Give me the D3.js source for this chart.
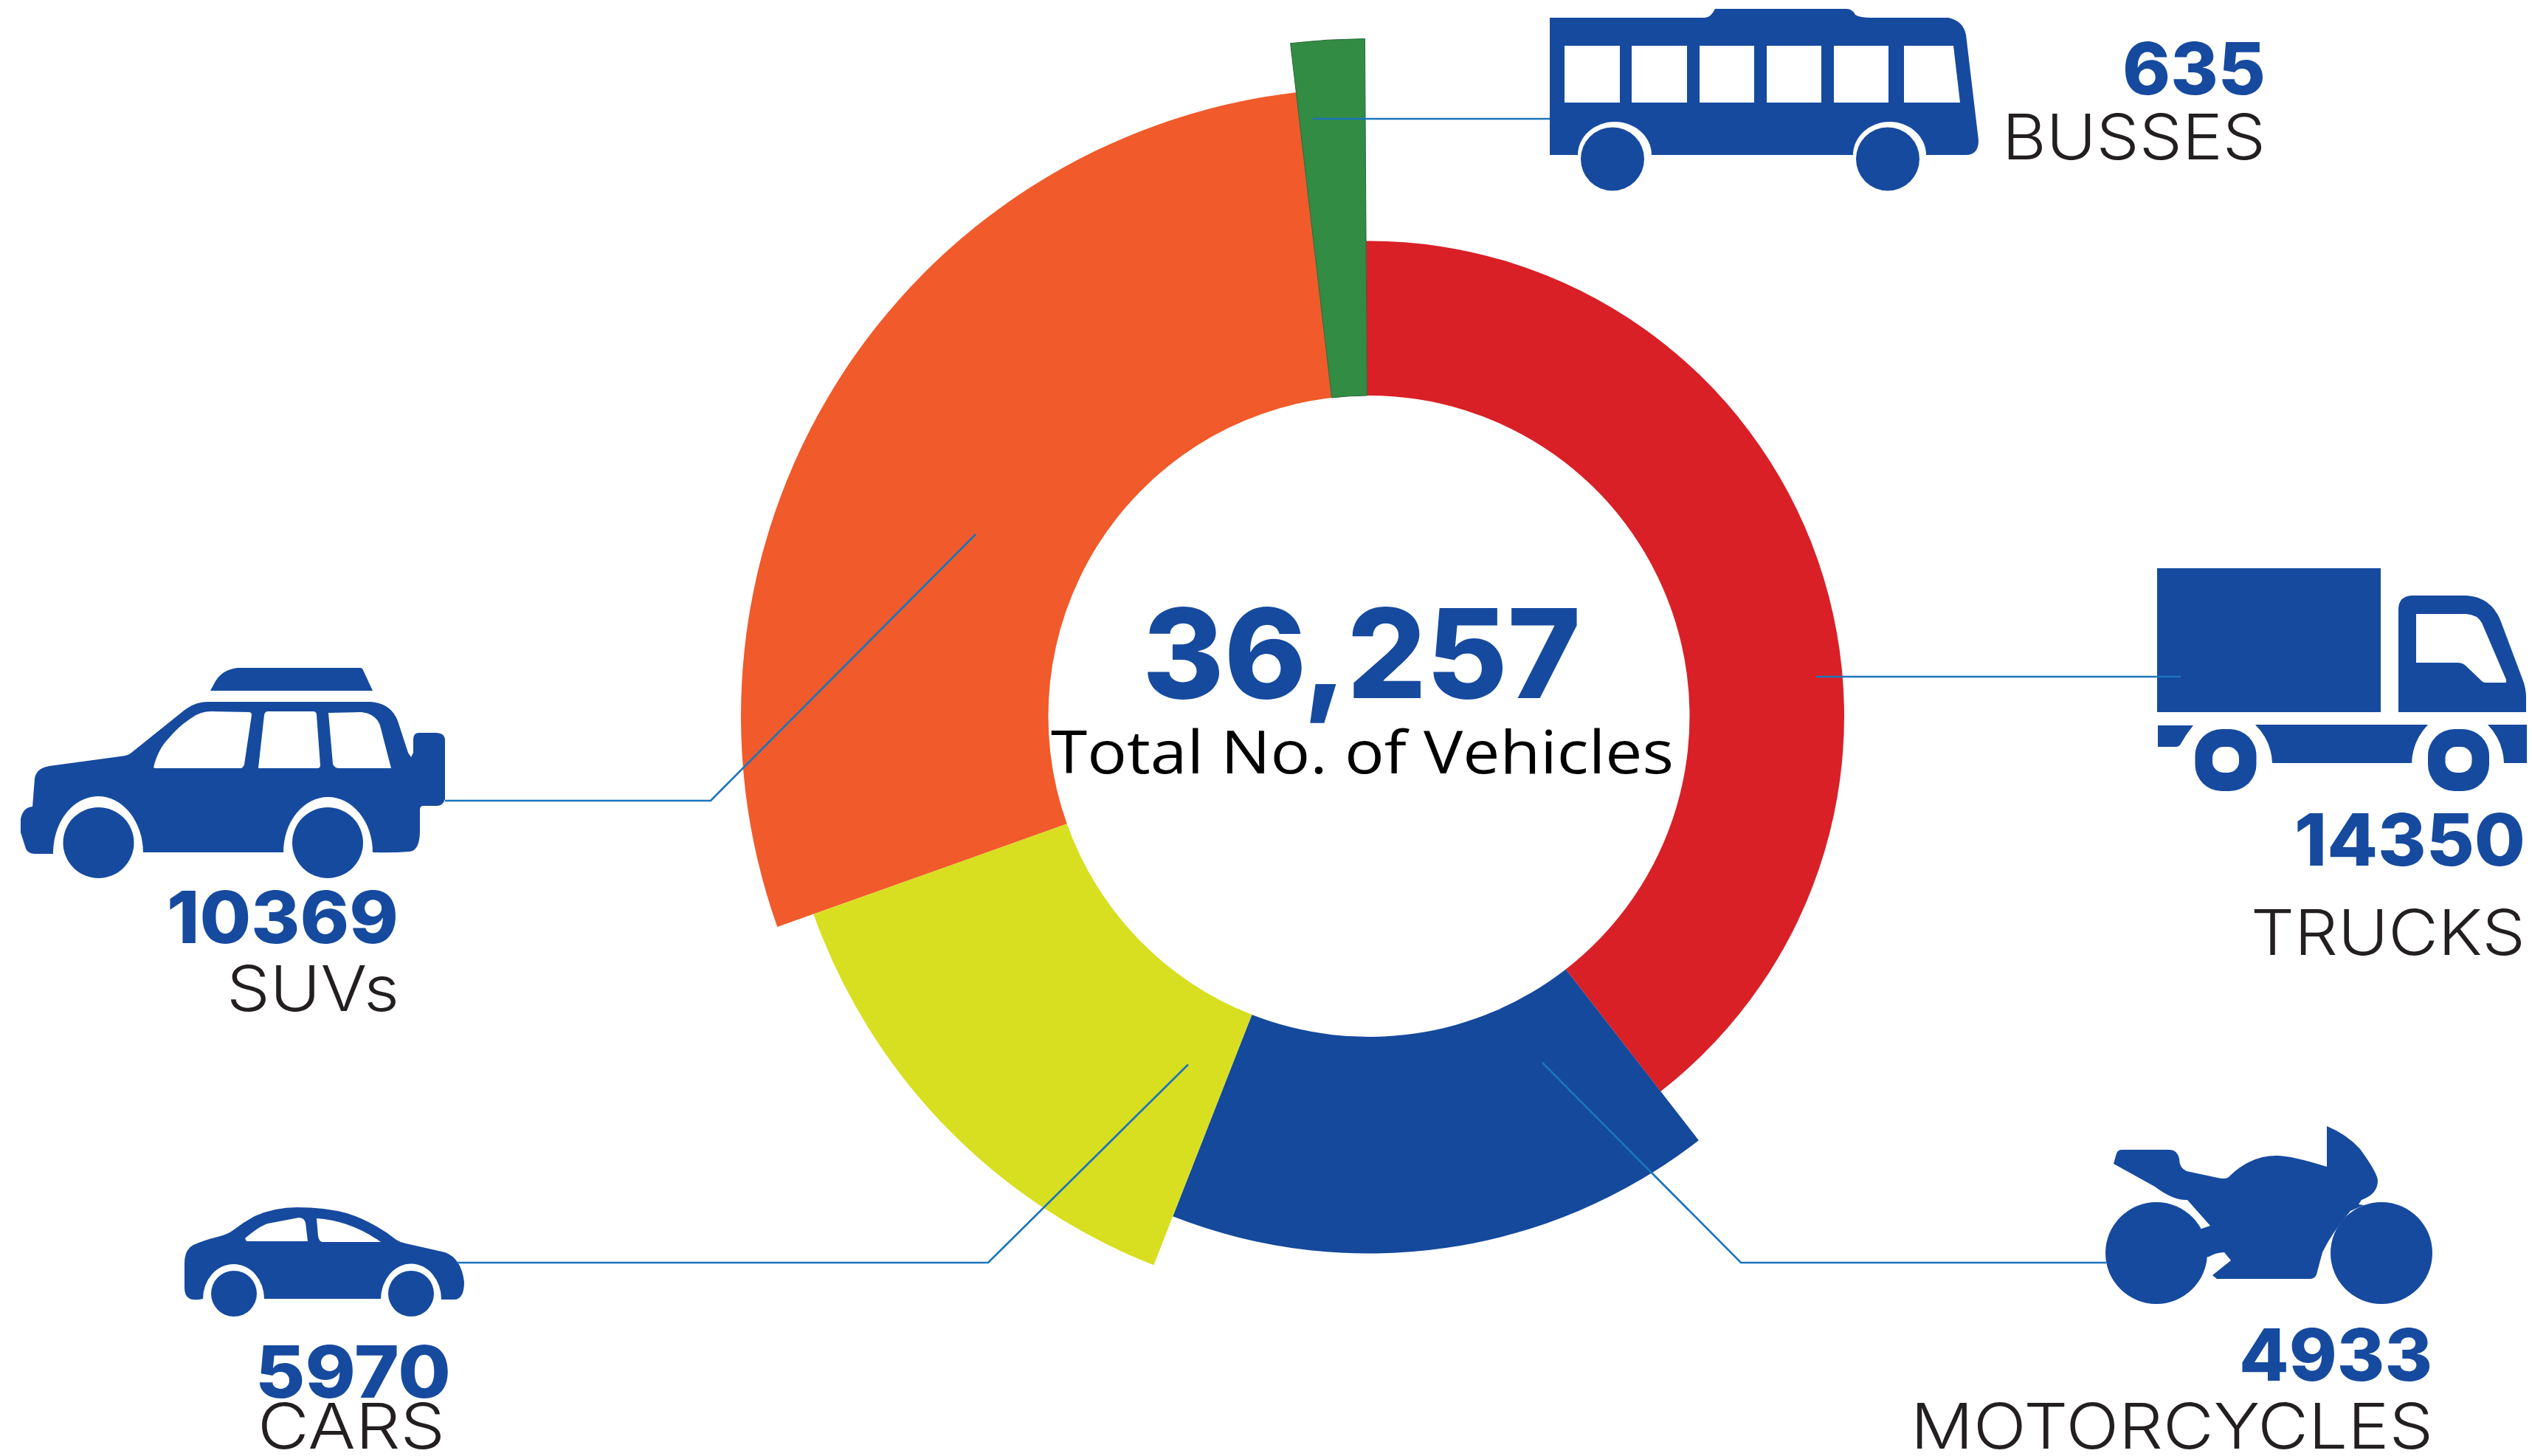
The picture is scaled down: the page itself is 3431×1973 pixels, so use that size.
<!DOCTYPE html>
<html>
<head>
<meta charset="utf-8">
<script src="https://cdn.jsdelivr.net/npm/d3@7/dist/d3.min.js"></script>
<style>
html,body{margin:0;padding:0;background:#fff;}
svg{display:block;}
</style>
</head>
<body>
<svg id="chart" width="3431" height="1973" viewBox="0 0 3431 1973"></svg>
<script>
// ---- data ----
const categories = ["TRUCKS", "MOTORCYCLES", "CARS", "SUVs", "BUSSES"];
const printedValues = [14350, 4933, 5970, 10369, 635];
// The drawn wedges: in the reference the blue wedge spans ~59 deg and the yellow ~49 deg,
// i.e. the two sizes are exchanged relative to the printed numbers.
const wedgeValues = [14350, 5970, 4933, 10369, 635];
const centerCaption = "Total No. of Vehicles";

// ---- layout and style ----
const W = 3431, H = 1973;
const cx = 1855, cy = 970.5, innerR = 434.5;
const iconBlue = "#164a9f", labelInk = "#231f20", leaderBlue = "#1c75bc";
const color = d3.scaleOrdinal().domain(categories)
  .range(["#d92027", "#14499c", "#d7df20", "#f15a2a", "#338c44"]);
const outerR = d3.scaleOrdinal().domain(categories)
  .range([644, 728, 799, 851, 918]);

const svg = d3.select("#chart");
svg.append("rect").attr("width", W).attr("height", H).attr("fill", "#fff");

// ---- wedges ----
const rot = -0.35 * Math.PI / 180;
const pie = d3.pie().sort(null).value((d, i) => wedgeValues[i])
  .startAngle(rot).endAngle(2 * Math.PI + rot);
const arcs = pie(categories);
const arc = d3.arc().innerRadius(innerR).outerRadius(d => outerR(d.data));
svg.append("g").attr("transform", `translate(${cx},${cy})`)
  .selectAll("path").data(arcs).join("path")
  .attr("d", arc).attr("fill", d => color(d.data))
  .attr("stroke", d => d.data === "BUSSES" ? "#24693a" : "none")
  .attr("stroke-width", 1);

// ---- icons ----
const icons = svg.append("g").attr("fill", iconBlue);
const hole = "#fff";

// bus
icons.append("path").attr("d",
 "M2100 24H2310Q2318 24 2324 12Q2326 12 2331 12H2502Q2510 12 2514 20Q2520 24 2535 24H2640Q2660 28 2664 47L2681 190Q2681 210 2664 210H2610A49.5 45 0 0 0 2511 210H2238A50 45 0 0 0 2138 210H2100Z");
[2185, 2558].forEach(x => icons.append("circle").attr("cx", x).attr("cy", 215.5).attr("r", 43));
[[2120,2195],[2211,2286],[2303,2377],[2394,2468],[2485,2559]].forEach(([a,b]) =>
  icons.append("rect").attr("x", a).attr("y", 62).attr("width", b-a).attr("height", 77).attr("fill", hole));
icons.append("path").attr("fill", hole).attr("d", "M2580 62H2647L2656 139H2580Z");

// truck
icons.append("rect").attr("x", 2923).attr("y", 770).attr("width", 303).attr("height", 195);
icons.append("path").attr("d",
 "M3250 965V826Q3250 807 3270 807H3342Q3375 809 3388 840L3418 920Q3423 932 3423 945V965Z");
icons.append("path").attr("fill", hole).attr("d",
 "M3274 832H3342Q3357 833 3363 844L3396 921V925H3368Q3364 925 3360 920L3340 901Q3336 898 3330 898H3274Z");
icons.append("path").attr("d", "M2924 983H2972Q2962 995 2955 1008Q2953 1012 2948 1012H2924Z");
icons.append("path").attr("d", "M3056 982H3290Q3269 1004 3268 1034H3079Q3078 1004 3056 982Z");
icons.append("path").attr("d", "M3371 982H3424V1034H3393Q3392 1004 3371 982Z");
[3016, 3331.5].forEach(x => {
  icons.append("rect").attr("x", x-41.5).attr("y", 988).attr("width", 83).attr("height", 84).attr("rx", 36);
  icons.append("rect").attr("x", x-18).attr("y", 1012).attr("width", 36).attr("height", 35).attr("rx", 15).attr("fill", hole);
});

// SUV
icons.append("path").attr("d", "M285 936L292 923Q302 907 322 905H488Q491 905 492 908L505 936Z");
icons.append("path").attr("d",
 "M44 1093L47 1055Q49 1041 67 1038L163 1025Q174 1024 178 1020L249 963Q264 951 282 951H502Q530 953 539 977L553 1020L557 1026L560 1020V1002Q560 993 568 993H590Q603 993 603 1003V1083Q600 1092 592 1092H574Q569 1092 569 1097V1125Q569 1153 555 1154Q530 1156 505 1155A60.5 75 0 0 0 384 1155H194A61 77 0 0 0 72 1157H47Q38 1157 35 1150L28 1128V1110Q31 1094 44 1093Z");
[133.5, 444].forEach(x => icons.append("circle").attr("cx", x).attr("cy", 1142).attr("r", 48));
[
 "M208 1040Q214 1015 229 1000Q243 983 261 972Q272 964 286 964L337 965Q341 965 341 969L331 1036Q329 1041 326 1041H210Z",
 "M350 1041L358 969Q359 964 363 964H424Q429 964 429 969L434 1037Q434 1041 430 1041Z",
 "M445 966L490 965Q510 968 515 983L530 1041H460Q453 1041 451 1035Z"
].forEach(d => icons.append("path").attr("fill", hole).attr("d", d));

// car
icons.append("path").attr("d",
 "M275 1760Q250 1766 250 1745V1712Q250 1693 262 1687Q275 1681 295 1676Q308 1673 316 1667Q330 1656 345 1648Q372 1636 403 1636Q440 1636 470 1644Q505 1655 537 1680Q543 1684 550 1685L603 1697Q625 1705 629 1737Q629 1761 615 1761H598A41 48 0 0 0 516 1760H358A41.5 47 0 0 0 275 1760Z");
[317, 557].forEach(x => icons.append("circle").attr("cx", x).attr("cy", 1753).attr("r", 31));
[
 "M332 1678L334 1682H417L414 1657Q412 1650 405 1650L363 1658Q352 1661 332 1678Z",
 "M429 1651Q475 1654 516 1683H437Q432 1682 431 1675Z"
].forEach(d => icons.append("path").attr("fill", hole).attr("d", d));

// motorcycle
icons.append("path").attr("d",
 "M2864 1577L2868 1563Q2870 1558 2875 1558H2940Q2950 1558 2953 1570Q2953 1583 2963 1587L3005 1596Q3018 1599 3022 1593Q3050 1566 3085 1566Q3105 1566 3153 1581V1526Q3180 1537 3198 1557Q3222 1590 3222 1600Q3222 1618 3200 1626L3196 1632L3203 1633L3185 1641Q3160 1670 3147 1697L3139 1727Q3137 1733 3129 1733H3004L2998 1728L3023 1708L3014 1697Q3003 1697 2993 1703L2975 1705L2983 1665L2995 1661L2964 1626Q2945 1627 2920 1608Z");
[2922, 3227].forEach(x => icons.append("circle").attr("cx", x).attr("cy", 1698).attr("r", 69));

// ---- leader lines ----
const leaderPoints = [
 [[2461,917],[2955,917]],
 [[2090,1440],[2359,1711],[2854,1711]],
 [[1610,1442.5],[1339,1711],[619,1711]],
 [[1322,724],[963,1085],[603,1085]],
 [[1779,161],[2100,161]]
];
const leaderLine = d3.line();
svg.append("g").selectAll("path").data(leaderPoints).join("path")
  .attr("d", leaderLine).attr("fill", "none").attr("stroke", leaderBlue).attr("stroke-width", 2.7);

// ---- labels ----
const numFont = "Inter, sans-serif", nameFont = "Inter, sans-serif";
const labelBoxes = {
  TRUCKS:      {num:[3109,3422,1173], name:[3050,3422,1294]},
  MOTORCYCLES: {num:[3034,3296,1871], name:[2589,3297,1963]},
  CARS:        {num:[346,611,1894],   name:[349,603,1963]},
  SUVs:        {num:[226,540,1278],   name:[307,541,1370]},
  BUSSES:      {num:[2876,3070,128],  name:[2713,3070,216]}
};
function fitted(text, x0, x1, y, size, weight, fill, family) {
  svg.append("text").attr("x", x0).attr("y", y)
    .attr("font-family", family).attr("font-size", size).attr("font-weight", weight)
    .attr("fill", fill).attr("textLength", x1-x0).attr("lengthAdjust", "spacingAndGlyphs")
    .text(text);
}
categories.forEach((c, i) => {
  const b = labelBoxes[c];
  fitted(String(printedValues[i]), b.num[0], b.num[1], b.num[2], 98, 800, iconBlue, numFont);
  fitted(c, b.name[0], b.name[1], b.name[2], 85, 300, labelInk, nameFont);
});
fitted(d3.format(",")(d3.sum(printedValues)), 1548, 2142, 946, 168, 800, iconBlue, numFont);
fitted(centerCaption, 1424, 2268, 1048, 80, 400, "#000", "'Open Sans', sans-serif");
</script>
</body>
</html>
